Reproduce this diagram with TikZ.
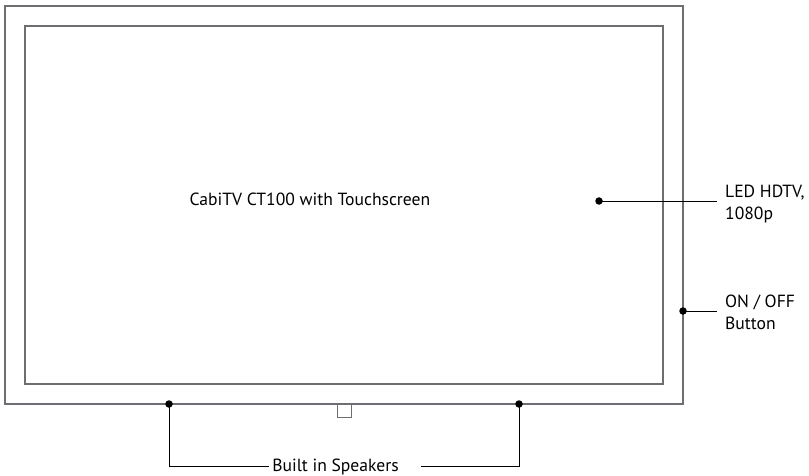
\documentclass[tikz,border=0pt]{standalone}
\usepackage{fontspec}
\setmainfont{PT Sans}
\definecolor{frame}{HTML}{6D6E71}
\begin{document}
\begin{tikzpicture}[x=1pt,y=-1pt,
  box/.style={draw=frame,line width=1.4pt},
  lead/.style={draw=black,line width=0.9pt},
  dot/.style={circle,fill=black,inner sep=0pt,minimum size=7.5pt},
  lbl/.style={font=\fontsize{17.6}{22}\selectfont,inner sep=0pt,align=left}]
\useasboundingbox (0,0) rectangle (809,476);
\draw[box] (5,6) rectangle (683,404);
\draw[box] (25,26) rectangle (663,384);
\draw[box,line width=1pt] (337,404) -- (337,417) -- (351,417) -- (351,404);
\node[lbl,anchor=base] (title) at (310,205) {CabiTV CT100 with Touchscreen};
% LED HDTV
\node[dot] (d1) at (599,201) {};
\coordinate (e1) at (717,201);
\draw[lead] (d1.center) -- (e1);
\node[lbl,anchor=base west] (t1) at (725,219) {LED HDTV,\\1080p};
% ON/OFF
\node[dot] (d2) at (683,311) {};
\coordinate (e2) at (717,311);
\draw[lead] (d2.center) -- (e2);
\node[lbl,anchor=base west] (t2) at (725,329) {ON / OFF\\Button};
% speakers
\node[dot] (s1) at (169,404) {};
\node[dot] (s2) at (519,404) {};
\node[lbl,anchor=base] (t3) at (335.5,471) {Built in Speakers};
\coordinate (c1) at (169,466);
\coordinate (c2) at (519,466);
\draw[lead] (s1.center) -- (c1) -- (269,466);
\draw[lead] (s2.center) -- (c2) -- (421,466);
\end{tikzpicture}
\end{document}
